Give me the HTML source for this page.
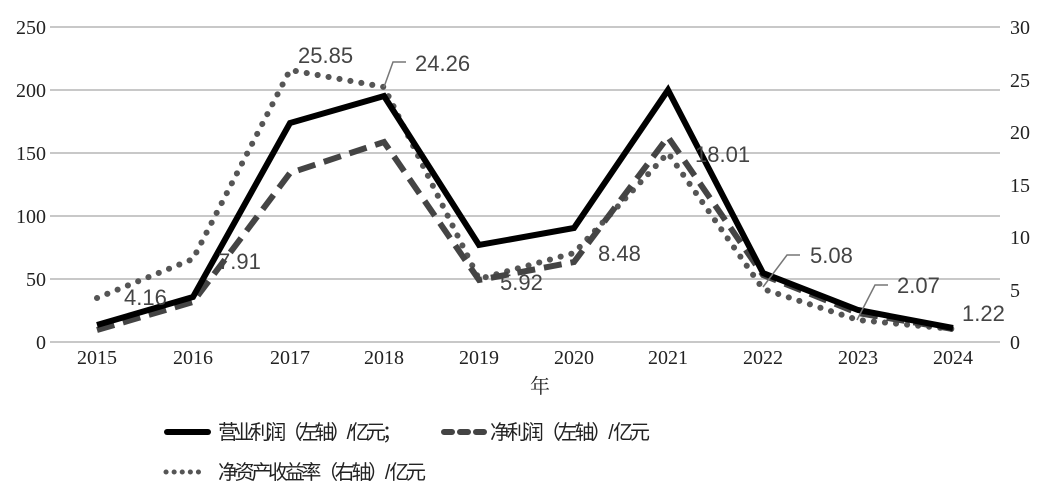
<!DOCTYPE html>
<html><head><meta charset="utf-8"><style>
html,body{margin:0;padding:0;background:#fff;}
svg{display:block;}
.tk{font-family:"Liberation Serif","Noto Serif CJK SC",serif;font-size:20px;fill:#222;}
.lb{font-family:"Liberation Sans",sans-serif;font-size:22px;fill:#444;}
.lg{font-family:"Liberation Sans","Noto Sans CJK SC",sans-serif;font-size:20px;fill:#222;}
</style></head><body>
<svg width="1044" height="489" viewBox="0 0 1044 489" xmlns="http://www.w3.org/2000/svg">
<g stroke="#c8c8c8" stroke-width="2">
<line x1="50" y1="27" x2="1000" y2="27"/><line x1="50" y1="90" x2="1000" y2="90"/>
<line x1="50" y1="153" x2="1000" y2="153"/><line x1="50" y1="216" x2="1000" y2="216"/>
<line x1="50" y1="279" x2="1000" y2="279"/><line x1="50" y1="342" x2="1000" y2="342"/>
</g>
<g class="tk" text-anchor="end">
<text x="46" y="34">250</text><text x="46" y="97">200</text><text x="46" y="160">150</text>
<text x="46" y="223">100</text><text x="46" y="286">50</text><text x="46" y="349">0</text>
</g>
<g class="tk" text-anchor="start">
<text x="1010" y="34">30</text><text x="1010" y="87">25</text><text x="1010" y="139">20</text>
<text x="1010" y="192">15</text><text x="1010" y="244">10</text><text x="1010" y="297">5</text><text x="1010" y="349">0</text>
</g>
<g class="tk" text-anchor="middle">
<text x="97" y="364">2015</text><text x="193" y="364">2016</text><text x="290" y="364">2017</text>
<text x="384" y="364">2018</text><text x="479" y="364">2019</text><text x="574" y="364">2020</text>
<text x="668" y="364">2021</text><text x="763" y="364">2022</text><text x="858" y="364">2023</text>
<text x="953" y="364">2024</text>
<text x="540" y="393">年</text>
</g>
<polyline fill="none" stroke="#555" stroke-width="6" stroke-linecap="round" stroke-dasharray="0.1 11" points="97,298 193,259 290,70 384,87 479,279 574,253 668,153 763,289 858,320 953,329"/>
<polyline fill="none" stroke="#444" stroke-width="6" stroke-dasharray="18 9" points="97,330 193,302 290,173 384,142 479,280 574,262 668,137 763,275 858,313 953,329"/>
<polyline fill="none" stroke="#000" stroke-width="6" stroke-linejoin="miter" points="97,325 193,297 290,123 384,96 479,245 574,228 668,90 763,273 858,310 953,328"/>
<g fill="none" stroke="#777" stroke-width="1.5">
<polyline points="384,87 393,62 406,62"/>
<polyline points="763,287 787,255 800,255"/>
<polyline points="857,320 875,285 888,285"/>
</g>
<g class="lb">
<text x="124" y="305">4.16</text><text x="218" y="269">7.91</text>
<text x="298" y="63">25.85</text><text x="415" y="71">24.26</text>
<text x="500" y="290">5.92</text><text x="598" y="261">8.48</text>
<text x="695" y="162">18.01</text><text x="810" y="263">5.08</text>
<text x="897" y="293">2.07</text><text x="962" y="321">1.22</text>
</g>
<line x1="167" y1="432" x2="208" y2="432" stroke="#000" stroke-width="6" stroke-linecap="round"/>
<text class="lg" x="218" y="439" textLength="184">营业利润（左轴）/ 亿元；</text>
<line x1="444" y1="432" x2="485" y2="432" stroke="#444" stroke-width="6" stroke-linecap="round" stroke-dasharray="8 8"/>
<text class="lg" x="490" y="439" textLength="160">净利润（左轴）/ 亿元</text>
<line x1="166" y1="472" x2="206" y2="472" stroke="#555" stroke-width="5" stroke-linecap="round" stroke-dasharray="0.1 8"/>
<text class="lg" x="218" y="479" textLength="208">净资产收益率（右轴）/ 亿元</text>
</svg>
</body></html>
